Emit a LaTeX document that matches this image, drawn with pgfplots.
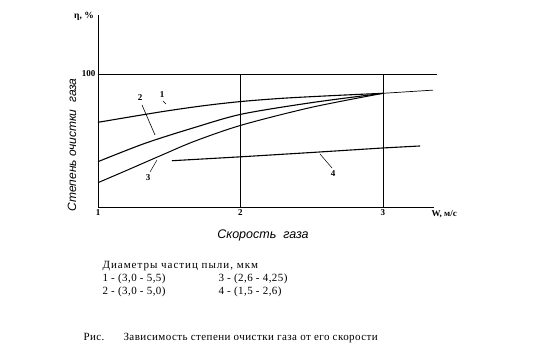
\documentclass[border=0pt]{standalone}
\usepackage{pgfplots}
\pgfplotsset{compat=1.18}
\usepackage{fontspec}
\setmainfont{Liberation Serif}
\setsansfont{Liberation Sans}
\begin{document}
\begin{tikzpicture}[x=1pt,y=1pt]
\useasboundingbox (0,0) rectangle (540,348);
\begin{axis}[
  at={(98pt,141pt)}, anchor=south west,
  scale only axis, width=336pt, height=192pt,
  xmin=1, xmax=3.358, ymin=0, ymax=144.4,
  axis x line*=bottom, axis y line*=left,
  axis line style={-, line width=0.8pt},
  xtick={1,2,3}, ytick={100},
  major tick length=0pt,
  /pgf/number format/assume math mode=true,
  tick label style={font=\bfseries\fontsize{9}{10}\selectfont},
  xticklabel style={yshift=1pt},
  yticklabel style={xshift=1pt},
  clip=false,
]
% grid lines
\addplot[black, line width=0.8pt] coordinates {(1,100) (3.379,100)};
\addplot[black, line width=0.8pt] coordinates {(2,0) (2,100)};
\addplot[black, line width=0.8pt] coordinates {(3,0) (3,100)};
% curve 1
\addplot[black, line width=1.1pt, smooth, tension=0.5] coordinates {
 (1,63.7) (1.449,71.7) (1.75,76.3) (2.011,79.4) (2.3,81.8) (2.65,83.8) (3.0,85.5)};
\addplot[black, line width=0.7pt] coordinates {(3.0,85.5) (3.351,87.9)};
% curve 2
\addplot[black, line width=1.1pt, smooth, tension=0.5] coordinates {
 (1,34.1) (1.330,47.9) (1.681,59.9) (2.011,69.9) (2.5,78.5) (3.0,85.5)};
% curve 3
\addplot[black, line width=1.0pt, smooth, tension=0.5] coordinates {
 (1,18.3) (1.211,28.0) (1.449,39.1) (1.681,49.6) (2.011,61.7) (2.5,75.0) (3.0,85.5)};
% curve 4
\addplot[black, line width=1.1pt] coordinates {
 (1.519,34.8) (2.011,37.8) (2.5,41.0) (3.0,44.4) (3.260,45.9)};
\end{axis}
% curve labels and leaders
\node[font=\bfseries\fontsize{9}{10}\selectfont] at (162,253) {1};
\draw[line width=0.5pt] (163,247) -- (166,244);
\node[font=\bfseries\fontsize{9}{10}\selectfont] at (140,250) {2};
\draw[line width=0.6pt] (142,243) -- (155,213);
\node[font=\bfseries\fontsize{9}{10}\selectfont] at (148,170) {3};
\draw[line width=0.5pt] (150,176) -- (157,188);
\node[font=\bfseries\fontsize{9}{10}\selectfont] at (333,174) {4};
\draw[line width=0.5pt] (320,194) -- (332,180);
% axis texts
\node[font=\bfseries\fontsize{9.5}{10}\selectfont] at (84,332) {η, \%};
\node[font=\bfseries\fontsize{9}{10}\selectfont, anchor=west] at (428,134) {W, м/с};
\node[font=\sffamily\itshape\fontsize{12}{14}\selectfont, rotate=90] at (72,203) {Степень очистки\ \ газа};
\node[font=\sffamily\itshape\fontsize{12.5}{14}\selectfont] at (263,113) {Скорость\ \ газа};
% legend
\begin{scope}[every node/.style={anchor=base west, font=\fontsize{11}{12}\selectfont\addfontfeature{LetterSpace=4}}]
\node[font=\fontsize{11}{12}\selectfont\addfontfeature{LetterSpace=9}] at (99,79.5) {Диаметры частиц пыли, мкм};
\node at (99,66.5) {1 - (3,0 - 5,5)};
\node at (99,53.5) {2 - (3,0 - 5,0)};
\node at (215,66.5) {3 - (2,6 - 4,25)};
\node at (215,53.5) {4 - (1,5 - 2,6)};
\end{scope}
% caption
\node[anchor=base west, font=\fontsize{11}{12}\selectfont\addfontfeature{LetterSpace=4}] at (80,8) {Рис.};
\node[anchor=base west, font=\fontsize{11}{12}\selectfont\addfontfeature{LetterSpace=4}] at (120,8) {Зависимость степени очистки газа от его скорости};
\end{tikzpicture}
\end{document}
